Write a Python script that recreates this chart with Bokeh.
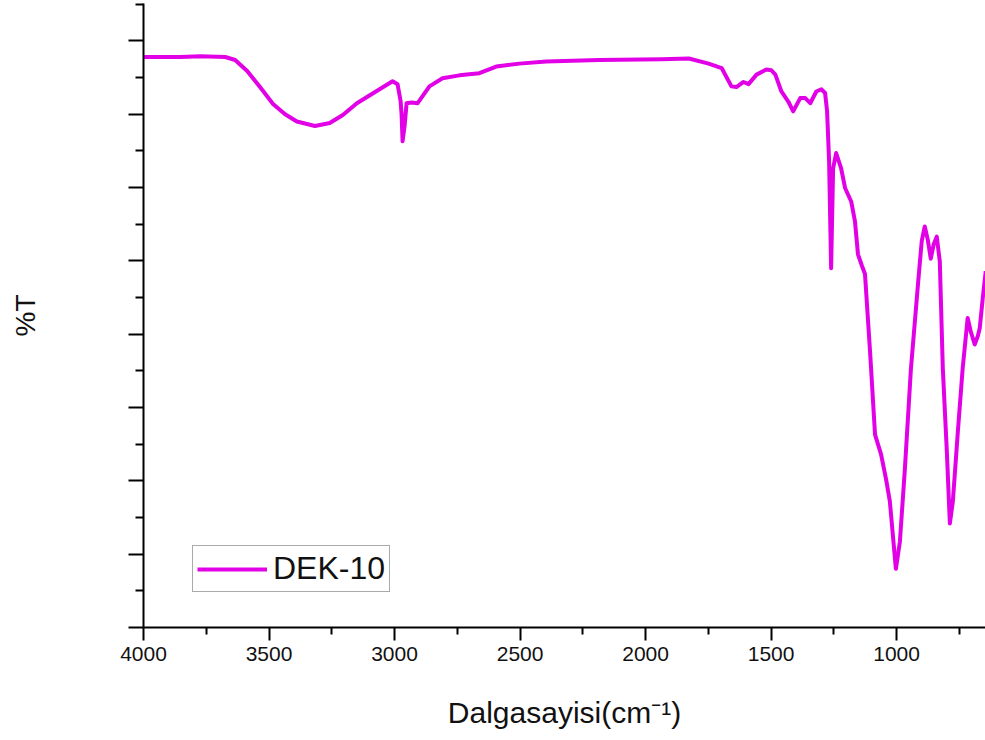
from bokeh.plotting import figure
from bokeh.models import Range1d, FixedTicker, Legend, LegendItem, ColumnDataSource, CustomJSTickFormatter
from bokeh.embed import file_html
from bokeh.resources import INLINE

wavenumber = [4000, 3853, 3774, 3674, 3635, 3587, 3536, 3484, 3436, 3389, 3317, 3258,
              3206, 3150, 3079, 3008, 2988, 2976, 2972, 2968, 2960, 2952, 2932, 2908,
              2861, 2809, 2742, 2662, 2595, 2503, 2396, 2186, 1936, 1828, 1749, 1697,
              1658, 1638, 1610, 1590, 1558, 1519, 1499, 1483, 1459, 1431, 1412, 1384,
              1364, 1344, 1320, 1300, 1285, 1277, 1269, 1261, 1253, 1241, 1221, 1205,
              1181, 1166, 1154, 1138, 1126, 1106, 1086, 1062, 1042, 1027, 1003, 987,
              967, 943, 915, 900, 888, 876, 864, 852, 840, 828, 816, 800, 788, 776,
              757, 737, 717, 705, 689, 677, 669, 657, 645]
transmittance = [77.8, 77.8, 77.9, 77.8, 77.4, 75.9, 73.7, 71.4, 70.0, 69.0, 68.4, 68.8,
                 69.9, 71.5, 73.0, 74.5, 74.1, 71.8, 70.0, 66.3, 68.4, 71.5, 71.6, 71.5,
                 73.8, 74.9, 75.3, 75.6, 76.5, 76.9, 77.2, 77.4, 77.5, 77.6, 76.9, 76.3,
                 73.8, 73.7, 74.4, 74.1, 75.4, 76.1, 76.0, 75.4, 73.1, 71.7, 70.4, 72.2,
                 72.2, 71.5, 73.1, 73.4, 72.9, 70.4, 63.6, 49.0, 62.6, 64.7, 62.6, 59.9,
                 58.1, 55.4, 50.9, 49.3, 48.2, 37.7, 26.3, 23.6, 20.2, 17.2, 8.0, 11.7,
                 21.7, 35.3, 46.8, 52.7, 54.7, 52.9, 50.3, 52.3, 53.3, 49.9, 35.3, 24.0,
                 14.2, 17.2, 26.3, 35.3, 42.2, 40.4, 38.6, 39.7, 40.8, 44.9, 48.6]

x_major = [4000, 3500, 3000, 2500, 2000, 1500, 1000]
x_minor = [3750, 3250, 2750, 2250, 1750, 1250, 750]
y_major = [0, 10, 20, 30, 40, 50, 60, 70, 80]
y_minor = [5, 15, 25, 35, 45, 55, 65, 75, 85]
series_name = "DEK-10"
x_title = "Dalgasayisi(cm\u207b\u00b9)"
y_title = "%T"

FONT = "Liberation Sans"
COLOR = "#E200E6"

p = figure(width=985, height=740, output_backend="svg", toolbar_location=None,
           x_range=Range1d(4000, 646), y_range=Range1d(0, 85.1),
           min_border_left=143, min_border_right=0, min_border_top=3,
           min_border_bottom=113)
p.outline_line_color = None
p.grid.visible = False
p.background_fill_color = "white"
p.border_fill_color = "white"

src = ColumnDataSource(dict(x=wavenumber, y=transmittance))
r = p.line("x", "y", source=src, line_color=COLOR, line_width=4, line_join="round")

# x axis
xa = p.xaxis[0]
xa.ticker = FixedTicker(ticks=x_major, minor_ticks=x_minor)
xa.axis_line_width = 2
xa.major_tick_line_width = 2
xa.minor_tick_line_width = 2
xa.major_tick_in = 0
xa.major_tick_out = 13
xa.minor_tick_in = 0
xa.minor_tick_out = 7
xa.major_label_text_font = FONT
xa.major_label_text_font_size = "21px"
xa.major_label_text_color = "#111111"
xa.major_label_standoff = 6
xa.axis_label = x_title
xa.axis_label_text_font = FONT
xa.axis_label_text_font_size = "30px"
xa.axis_label_text_font_style = "normal"
xa.axis_label_text_color = "#111111"
xa.axis_label_standoff = 32

# y axis (ticks only, no tick labels)
ya = p.yaxis[0]
ya.ticker = FixedTicker(ticks=y_major, minor_ticks=y_minor)
ya.formatter = CustomJSTickFormatter(code="return '';")
ya.axis_line_width = 2
ya.major_tick_line_width = 2
ya.minor_tick_line_width = 2
ya.major_tick_in = 0
ya.major_tick_out = 15
ya.minor_tick_in = 0
ya.minor_tick_out = 8
ya.major_label_standoff = 0
ya.axis_label = y_title
ya.axis_label_text_font = FONT
ya.axis_label_text_font_size = "28px"
ya.axis_label_text_font_style = "normal"
ya.axis_label_text_color = "#111111"
ya.axis_label_standoff = 88

legend = Legend(items=[LegendItem(label=series_name, renderers=[r])],
                location=(49, 35), label_text_font=FONT, label_text_font_size="32px",
                label_text_color="#111111", glyph_width=70, glyph_height=20,
                label_standoff=6, padding=4, margin=0, spacing=0,
                border_line_color="#555555", border_line_width=1,
                background_fill_alpha=1.0)
p.add_layout(legend, "center")

open("out.html", "w").write(file_html(p, INLINE))
